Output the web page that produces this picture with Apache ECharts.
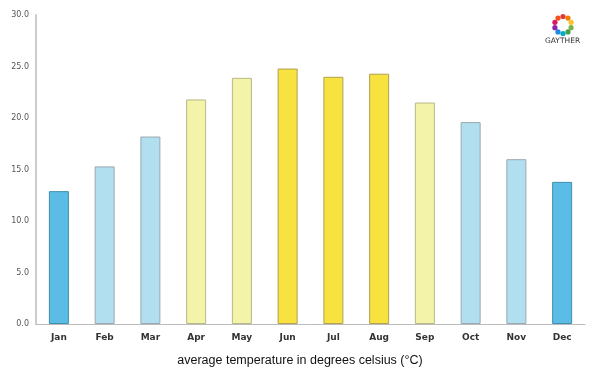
<!DOCTYPE html>
<html>
<head>
<meta charset="utf-8">
<script src="https://cdn.jsdelivr.net/npm/echarts@6/dist/echarts.min.js"></script>
<style>
  html, body { margin: 0; padding: 0; background: #fff; }
  #chart { width: 600px; height: 375px; }
</style>
</head>
<body>
<div id="chart"></div>
<script>
const months = ["Jan", "Feb", "Mar", "Apr", "May", "Jun", "Jul", "Aug", "Sep", "Oct", "Nov", "Dec"];
const avgTemp = [12.9, 15.3, 18.2, 21.8, 23.9, 24.8, 24.0, 24.3, 21.5, 19.6, 16.0, 13.8];
// colour band per month: 0 cold, 1 cool, 2 mild, 3 warm
const band = [0, 1, 1, 2, 2, 3, 3, 3, 2, 1, 1, 0];
const xTitle = "average temperature in degrees celsius (°C)";

const fills = ["#5bbde6", "#b1dff0", "#f3f3a9", "#f8e23f"];
const borders = ["#3f8fb0", "#9aa8b0", "#b8b888", "#b0a050"];

const chart = echarts.init(document.getElementById("chart"));

// little logo flower
const petalColors = ["#e53935", "#f57c00", "#fbc02d", "#7cb342", "#43a047", "#00acc1", "#1e88e5", "#8e24aa", "#d81b60", "#f4511e"];
const petals = petalColors.map(function(c, i) {
  const a = i / petalColors.length * Math.PI * 2 - Math.PI / 2;
  return {
    type: "circle",
    shape: { cx: 563 + Math.cos(a) * 8.5, cy: 25 + Math.sin(a) * 8.5, r: 2.6 },
    style: { fill: c }
  };
});

chart.setOption({
  animation: false,
  title: {
    text: xTitle,
    left: "center",
    top: 349,
    textStyle: { color: "#111", fontSize: 12.5, fontWeight: "normal", fontFamily: "Liberation Sans" }
  },
  grid: { left: 36, right: 15, top: 15, bottom: 51 },
  xAxis: {
    type: "category",
    data: months,
    axisLine: { lineStyle: { color: "#bbbbbb", width: 1 } },
    axisTick: { show: false },
    axisLabel: { color: "#333", fontSize: 9, fontWeight: "bold", fontFamily: "DejaVu Sans", margin: 9 }
  },
  yAxis: {
    type: "value",
    min: 0,
    max: 30,
    interval: 5,
    axisLine: { show: true, lineStyle: { color: "#cccccc", width: 2 } },
    axisTick: { show: false },
    splitLine: { show: false },
    axisLabel: {
      color: "#555",
      fontSize: 8,
      fontFamily: "DejaVu Sans",
      margin: 7,
      formatter: function(v) { return v.toFixed(1); }
    }
  },
  series: [{
    type: "bar",
    barWidth: 20,
    data: avgTemp.map(function(v, i) {
      return {
        value: v,
        itemStyle: { color: fills[band[i]], borderColor: borders[band[i]], borderWidth: 1 }
      };
    })
  }],
  graphic: petals.concat([{
    type: "text",
    left: 545,
    top: 37,
    style: { text: "GAYTHER", fill: "#333", fontSize: 7.5, fontFamily: "DejaVu Sans" }
  }])
});
</script>
</body>
</html>
